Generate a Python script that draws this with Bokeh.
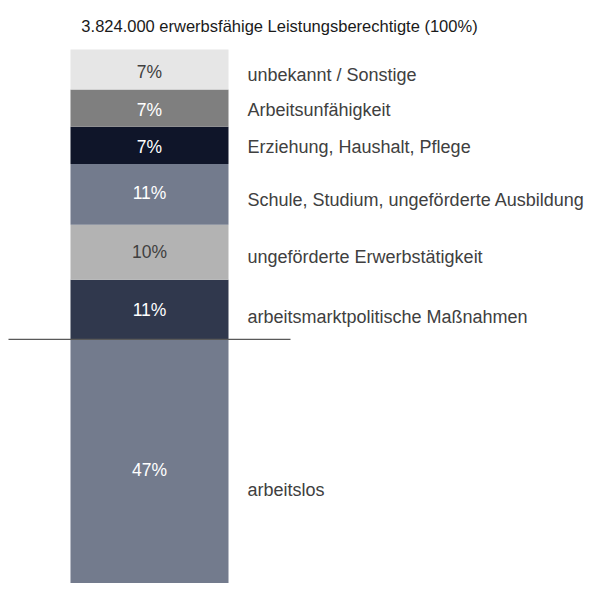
from bokeh.plotting import figure
from bokeh.models import Range1d, ColumnDataSource
from bokeh.core.properties import value
from bokeh.embed import file_html
from bokeh.resources import INLINE
import numpy as np

# ---- data (bottom to top) ----
categories = [
    "arbeitslos",
    "arbeitsmarktpolitische Maßnahmen",
    "ungeförderte Erwerbstätigkeit",
    "Schule, Studium, ungeförderte Ausbildung",
    "Erziehung, Haushalt, Pflege",
    "Arbeitsunfähigkeit",
    "unbekannt / Sonstige",
]
shares = [47.1, 10.9, 10.0, 11.1, 6.8, 6.8, 7.3]
pct_labels = ["47%", "11%", "10%", "11%", "7%", "7%", "7%"]
title_text = "3.824.000 erwerbsfähige Leistungsberechtigte (100%)"

# ---- styles ----
colors = ["#737b8d", "#30384d", "#b3b3b3", "#737b8d", "#0f1529", "#7f7f7f", "#e6e6e6"]
inner_colors = ["white", "white", "#404040", "white", "white", "white", "#404040"]
label_off_px = [22, 7, 5, 6, 1.5, 1.5, 5]     # right label offset (px, downward)
inner_off_px = [2, 0, 0, -1, 1.5, 1.5, 2]

W, H = 585, 583
PPU = 5.48            # pixels per percent
TOP_PX = 49           # canvas y of bar top
Y_TOP = 100 + TOP_PX / PPU
Y_BOT = Y_TOP - H / PPU

def py(canvas_y):
    return Y_TOP - canvas_y / PPU

top = np.cumsum(shares)
bottom = top - np.array(shares)
mid = (top + bottom) / 2

BAR_X, BAR_W = 149, 158
LABEL_X = 247

src = ColumnDataSource(dict(
    x=[BAR_X] * len(shares), bottom=bottom, top=top, color=colors,
    mid=mid, inner_y=mid - np.array(inner_off_px) / PPU,
    label_y=mid - np.array(label_off_px) / PPU,
    pct=pct_labels, cat=categories, inner_color=inner_colors,
    lx=[LABEL_X] * len(shares),
))

p = figure(width=W, height=H, output_backend="svg", toolbar_location=None,
           x_range=Range1d(0, W), y_range=Range1d(Y_BOT, Y_TOP),
           min_border=0)
p.axis.visible = False
p.grid.visible = False
p.outline_line_color = None
p.background_fill_color = "white"
p.border_fill_color = "white"

p.vbar(x="x", width=BAR_W, bottom="bottom", top="top", color="color",
       line_color=None, source=src)

# separator line at top of "arbeitslos"
p.line(x=[8, 290], y=[top[0], top[0]], line_color="#595959", line_width=1.2)

FONT = value("Liberation Sans")
p.text(x="x", y="inner_y", text="pct", text_color="inner_color",
       text_align="center", text_baseline="middle", text_font=FONT,
       text_font_size="17.5px", source=src)
p.text(x="lx", y="label_y", text="cat", text_color="#404040",
       text_align="left", text_baseline="middle", text_font=FONT,
       text_font_size="18px", source=src)

p.text(x=[279], y=[py(25)], text=[title_text], text_color="#1a1a1a",
       text_align="center", text_baseline="middle", text_font=FONT,
       text_font_size="16.5px")

open("out.html", "w").write(file_html(p, INLINE))
